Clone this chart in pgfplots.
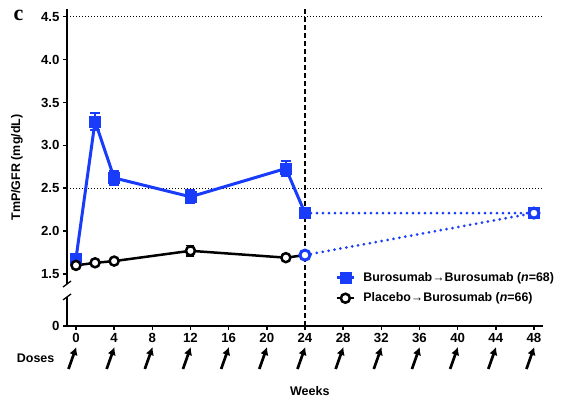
\documentclass[border=0pt]{standalone}
\usepackage{fontspec}
\setmainfont{Liberation Sans}
\newfontfamily\serifbf{Liberation Serif}
\usepackage{pgfplots}
\pgfplotsset{compat=1.18}
\usetikzlibrary{arrows.meta,calc}
\definecolor{bblue}{RGB}{25,60,250}
\begin{document}
\begin{tikzpicture}
\begin{axis}[
  scale only axis, width=476pt, height=317pt,
  xmin=-0.94, xmax=48.95, ymin=0.893, ymax=4.59,
  clip=false,
  axis x line=bottom, axis y line=left,
  axis line style={-, line width=1.5pt},
  y axis line style={draw=none},
  xtick={0,4,...,48},
  ytick={0.893,1.5,2,2.5,3,3.5,4,4.5},
  yticklabels={0,1.5,2.0,2.5,3.0,3.5,4.0,4.5},
  xtick pos=bottom, ytick pos=left, tick align=outside,
  major tick length=4pt,
  tick style={line width=1.5pt, black},
  /pgf/number format/assume math mode=true,
  tick label style={font=\fontsize{13.2}{15}\selectfont\bfseries},
  ylabel={TmP/GFR (mg/dL)},
  ylabel style={at={(axis description cs:-0.105,0.5)}, anchor=center, font=\fontsize{12.5}{14}\selectfont\bfseries},
  xlabel={Weeks},
  xlabel style={at={(axis description cs:0.51,-0.205)}, anchor=center, font=\fontsize{12.5}{14}\selectfont\bfseries},
  legend style={at={(axis description cs:0.557,0.182)}, anchor=north west, draw=none, fill=none,
    font=\fontsize{12.4}{14}\selectfont\bfseries, row sep=6pt},
  legend cell align=left,
]
% reference lines
\addplot[black, line width=1pt, dash pattern=on 1pt off 2pt, forget plot] coordinates {(-0.94,4.5) (48.95,4.5)};
\addplot[black, line width=1pt, dash pattern=on 1pt off 2pt, forget plot] coordinates {(-0.94,2.5) (48.95,2.5)};
\addplot[black, line width=1.3pt, dash pattern=on 5pt off 3pt, forget plot] coordinates {(24,0.893) (24,4.59)};
% legend images
\addlegendimage{bblue, line width=3pt, mark=square*, mark size=5.5pt, mark options={solid, line width=0.5pt}}
\addlegendentry{\hspace{6pt}Burosumab→Burosumab (\textit{n}=68)}
\addlegendimage{black, line width=2.5pt, mark=*, mark size=4.5pt, mark options={fill=white, line width=2.5pt, solid}}
\addlegendentry{\hspace{6pt}Placebo→Burosumab (\textit{n}=66)}
% Burosumab -> Burosumab
\addplot[bblue, line width=3pt, mark=square*, mark size=5.5pt, mark options={solid, line width=0.5pt}, forget plot,
  error bars/.cd, y dir=both, y explicit,
  error bar style={line width=1.5pt, solid},
  error mark options={rotate=90, mark size=5pt, line width=1.5pt}]
  coordinates {(0,1.68) +- (0,0.03) (2,3.28) +- (0,0.10) (4,2.62) +- (0,0.08) (12,2.40) +- (0,0.08) (22,2.73) +- (0,0.09) (24,2.21) +- (0,0.04)};
% Placebo -> Burosumab
\addplot[black, line width=2.5pt, forget plot] coordinates {(0,1.60) (2,1.63) (4,1.65) (12,1.77) (22,1.69) (24,1.72)};
\addplot[black, only marks, mark=*, mark size=4.5pt, mark options={fill=white, line width=2.5pt, solid}, forget plot,
  error bars/.cd, y dir=both, y explicit,
  error bar style={line width=1.5pt, solid},
  error mark options={rotate=90, mark size=4pt, line width=1.5pt}]
  coordinates {(0,1.60) +- (0,0.03) (2,1.63) +- (0,0.04) (4,1.65) +- (0,0.04) (12,1.77) +- (0,0.06) (22,1.69) +- (0,0.03)};
% extension phase (dotted)
\addplot[bblue, line width=3pt, line cap=round, dash pattern=on 0pt off 6pt, forget plot] coordinates {(24,2.21) (48,2.21)};
\addplot[bblue, line width=3pt, line cap=round, dash pattern=on 0pt off 6pt, forget plot] coordinates {(24,1.72) (48,2.21)};
\addplot[bblue, only marks, mark=square*, mark size=5.5pt, forget plot,
  error bars/.cd, y dir=both, y explicit,
  error bar style={line width=1.5pt},
  error mark options={rotate=90, mark size=5pt, line width=1.5pt}]
  coordinates {(48,2.21) +- (0,0.06)};
\addplot[bblue, only marks, mark=*, mark size=5pt, mark options={fill=white, line width=3pt}, forget plot,
  error bars/.cd, y dir=both, y explicit,
  error bar style={line width=1.5pt},
  error mark options={rotate=90, mark size=5pt, line width=1.5pt}]
  coordinates {(24,1.72) +- (0,0.03) (48,2.21) +- (0,0.06)};
% broken y axis
\draw[line width=1.5pt] (axis cs:-0.94,4.59) -- (axis cs:-0.94,1.383);
\draw[line width=1.5pt] (axis cs:-0.94,1.232) -- (axis cs:-0.94,0.893);
\draw[line width=1.3pt] ($(axis cs:-0.94,1.383)+(-4pt,-3pt)$) -- +(8pt,6pt);
\draw[line width=1.3pt] ($(axis cs:-0.94,1.232)+(-4pt,-3pt)$) -- +(8pt,6pt);
% dose arrows
\pgfplotsinvokeforeach{0,4,...,48}{
  \draw[line width=2.7pt, -{Latex[length=8pt,width=8.5pt]}] ($(axis cs:#1,0.893)+(-7.5pt,-43pt)$) -- ($(axis cs:#1,0.893)+(0.3pt,-21pt)$);
}
\node[font=\fontsize{12.5}{14}\selectfont\bfseries] at (axis description cs:-0.066,-0.101) {Doses};
\node[font=\fontsize{22}{24}\selectfont\serifbf\bfseries] at (axis description cs:-0.102,0.981) {c};
\path (axis description cs:-0.1408,-0.246) rectangle (axis description cs:1.0378,1.0284);
\end{axis}
\end{tikzpicture}
\end{document}
